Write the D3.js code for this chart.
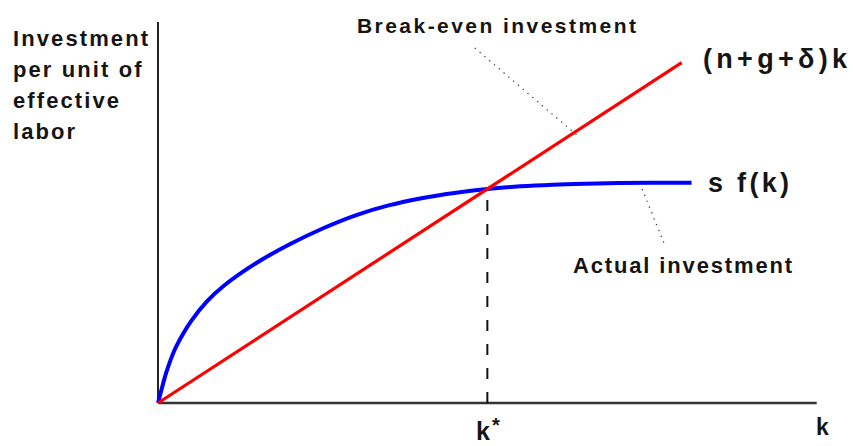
<!DOCTYPE html>
<html>
<head>
<meta charset="utf-8">
<script src="https://cdn.jsdelivr.net/npm/d3@7"></script>
<style>
  body { margin: 0; background: #fff; }
  svg text { font-family: "Liberation Sans", Arial, Helvetica, sans-serif; font-weight: bold; fill: #151515; }
</style>
</head>
<body>
<svg id="chart" width="853" height="446"></svg>
<script>
// Capital per effective worker (k) and actual investment s·f(k)
const kValues = [0, 0.05, 0.125, 0.25, 0.375, 0.5, 0.75, 1, 1.5, 2, 2.5, 3, 3.5, 4, 4.5, 5, 5.5, 6, 6.5, 7, 8.1];
const actualInvestment = [0, 0.19, 0.46, 0.80, 1.04, 1.24, 1.55, 1.78, 2.13, 2.41, 2.65, 2.85, 3.00, 3.11, 3.19, 3.25, 3.29, 3.315, 3.33, 3.34, 3.345];

// Break-even investment (n+g+δ)k
const breakEvenRate = 0.65;
const breakEvenK = [0, 7.95];

// Steady state
const kStar = 5;

// Axis extents
const kDomain = [0, 10];
const investmentDomain = [0, 5.785];

// Labels
const yAxisLabel = ["Investment", "per unit of", "effective", "labor"];
const xAxisLabel = "k";
const kStarLabel = "k";
const breakEvenLabel = "(n+g+δ)k";
const actualLabel = "s f(k)";
const breakEvenNote = "Break-even investment";
const actualNote = "Actual investment";

const svg = d3.select("#chart");
const x = d3.scaleLinear().domain(kDomain).range([158, 816.7]);
const y = d3.scaleLinear().domain(investmentDomain).range([403, 22]);

// Axes
svg.append("line")
  .attr("x1", x(0)).attr("x2", x(0))
  .attr("y1", y(0)).attr("y2", y(investmentDomain[1]))
  .attr("stroke", "#222").attr("stroke-width", 2);
svg.append("line")
  .attr("x1", x(0)).attr("x2", x(kDomain[1]))
  .attr("y1", y(0)).attr("y2", y(0))
  .attr("stroke", "#333").attr("stroke-width", 2.4);

// Steady-state drop line
const sfAtStar = actualInvestment[kValues.indexOf(kStar)];
svg.append("line")
  .attr("x1", x(kStar)).attr("x2", x(kStar))
  .attr("y1", y(0)).attr("y2", y(sfAtStar))
  .attr("stroke", "#111").attr("stroke-width", 2)
  .attr("stroke-dasharray", "11,13");

// Actual investment curve
const sfLine = d3.line()
  .x((d, i) => x(kValues[i]))
  .y(d => y(d))
  .curve(d3.curveCatmullRom.alpha(0.5));
svg.append("path")
  .datum(actualInvestment)
  .attr("d", sfLine)
  .attr("fill", "none")
  .attr("stroke", "#0000ff")
  .attr("stroke-width", 4);

// Break-even line
svg.append("path")
  .datum(breakEvenK)
  .attr("d", d3.line().x(k => x(k)).y(k => y(breakEvenRate * k)))
  .attr("fill", "none")
  .attr("stroke", "#ff0000")
  .attr("stroke-width", 3.2);

// Dotted leaders from the notes to the curves
const leaders = [
  { from: [4.81, 5.39], to: [6.39, 4.04] },
  { from: [7.35, 3.25], to: [7.68, 2.43] }
];
svg.selectAll("line.leader")
  .data(leaders)
  .join("line")
  .attr("class", "leader")
  .attr("x1", d => x(d.from[0])).attr("y1", d => y(d.from[1]))
  .attr("x2", d => x(d.to[0])).attr("y2", d => y(d.to[1]))
  .attr("stroke", "#444").attr("stroke-width", 1.3)
  .attr("stroke-dasharray", "1.3,5");

// Y-axis title
svg.append("text")
  .attr("font-size", 22).attr("letter-spacing", "2.1px")
  .selectAll("tspan")
  .data(yAxisLabel)
  .join("tspan")
  .attr("x", 13)
  .attr("y", (d, i) => 46 + i * 31)
  .text(d => d);

// Notes
svg.append("text")
  .attr("x", 357).attr("y", 33)
  .attr("font-size", 21).attr("letter-spacing", "2.45px")
  .text(breakEvenNote);
svg.append("text")
  .attr("x", 573).attr("y", 273)
  .attr("font-size", 22).attr("letter-spacing", "1.85px")
  .text(actualNote);

// Curve labels
svg.append("text")
  .attr("x", 703).attr("y", 68)
  .attr("font-size", 27).attr("letter-spacing", "4.3px")
  .text(breakEvenLabel);
svg.append("text")
  .attr("x", 708).attr("y", 192)
  .attr("font-size", 27).attr("letter-spacing", "3.3px")
  .text(actualLabel);

// Axis labels
svg.append("text")
  .attr("x", 816).attr("y", 435)
  .attr("font-size", 23)
  .text(xAxisLabel);
const ks = svg.append("text")
  .attr("x", 476).attr("y", 440)
  .attr("font-size", 25);
ks.append("tspan").text(kStarLabel);
ks.append("tspan").attr("dx", 2).attr("dy", -8).attr("font-size", 20).text("*");
</script>
</body>
</html>
